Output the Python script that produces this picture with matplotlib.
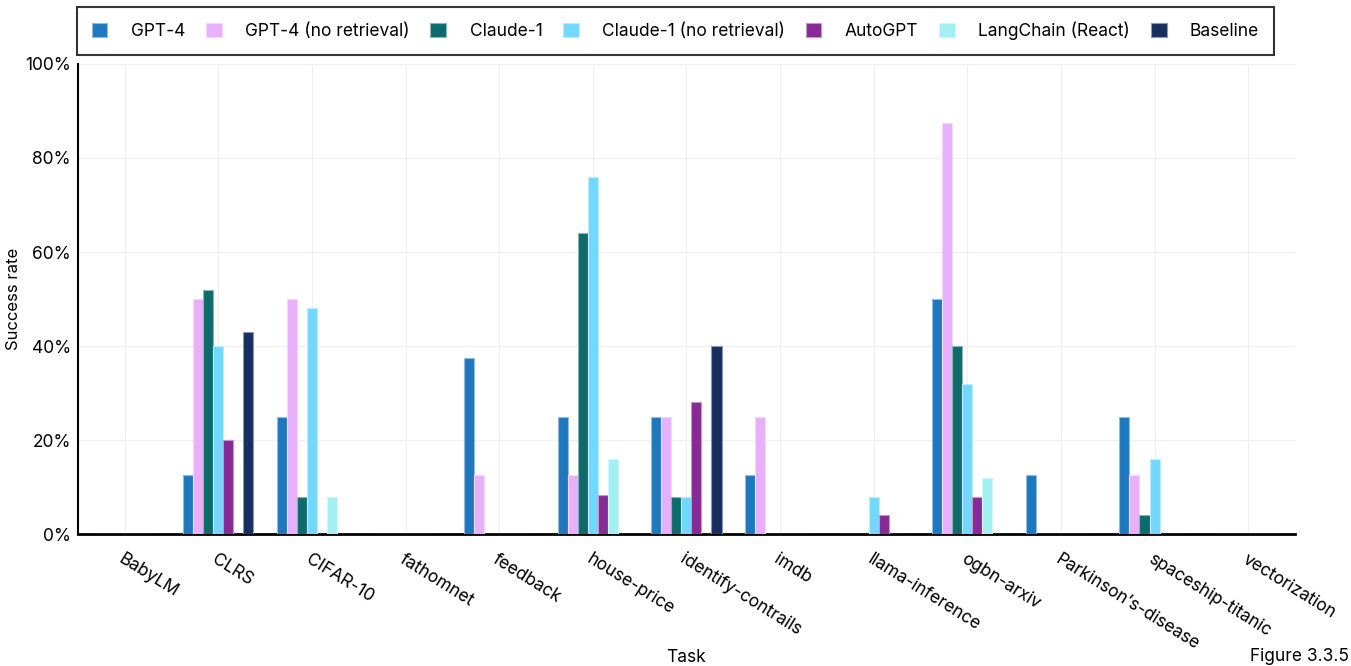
import matplotlib
matplotlib.use("Agg")
import matplotlib.pyplot as plt
import numpy as np
from matplotlib.ticker import PercentFormatter

plt.rcParams['font.family'] = ['Inter', 'DejaVu Sans']

tasks = ["BabyLM", "CLRS", "CIFAR-10", "fathomnet", "feedback", "house-price",
         "identify-contrails", "imdb", "llama-inference", "ogbn-arxiv",
         "Parkinson\u2019s-disease", "spaceship-titanic", "vectorization"]
series_names = ["GPT-4", "GPT-4 (no retrieval)", "Claude-1", "Claude-1 (no retrieval)",
                "AutoGPT", "LangChain (React)", "Baseline"]
gpt4 =        [0, 12.5, 25, 0, 37.5, 25, 25, 12.5, 0, 50, 12.5, 25, 0]
gpt4_nr =     [0, 50, 50, 0, 12.5, 12.5, 25, 25, 0, 87.5, 0, 12.5, 0]
claude =      [0, 52, 8, 0, 0, 64, 8, 0, 0, 40, 0, 4, 0]
claude_nr =   [0, 40, 48, 0, 0, 76, 8, 0, 8, 32, 0, 16, 0]
autogpt =     [0, 20, 0, 0, 0, 8.4, 28, 0, 4, 8, 0, 0, 0]
langchain =   [0, 0, 8, 0, 0, 16, 0, 0, 0, 12, 0, 0, 0]
baseline =    [0, 43, 0, 0, 0, 0, 40, 0, 0, 0, 0, 0, 0]
series = [gpt4, gpt4_nr, claude, claude_nr, autogpt, langchain, baseline]
colors = ["#1F78BE", "#E8B0FA", "#0F6B6B", "#73D8FF", "#882A96", "#A3F0F2", "#172E5E"]
edges = ["#8FBCE0", "#F3D8FC", "#87B5B5", "#B9ECFF", "#C495CB", "#D1F8F9", "#8B97AF"]

FS = 12.5

fig = plt.figure(figsize=(13.51, 6.66), dpi=100)
ax = fig.add_axes([0.0577, 0.198, 0.9008, 0.706])

x = np.arange(len(tasks))
n = len(series)
w = 0.107
for i, (vals, name, c, ec) in enumerate(zip(series, series_names, colors, edges)):
    ax.bar(x + (i - (n - 1) / 2) * w, vals, width=w, color=c, edgecolor=ec,
           linewidth=0.8, label=name, zorder=3)

ax.set_xlim(-0.5, len(tasks) - 0.5)
ax.set_ylim(0, 100)
ax.set_yticks([0, 20, 40, 60, 80, 100])
ax.yaxis.set_major_formatter(PercentFormatter(decimals=0))
ax.set_xticks(x)
ax.set_xticklabels(tasks, rotation=-32, ha='left', rotation_mode='anchor', fontsize=FS)
ax.tick_params(axis='y', labelsize=FS, length=0, pad=5)
ax.tick_params(axis='x', length=0, pad=12)
ax.grid(True, color="#EFEFEF", linewidth=0.8, zorder=0)
for s in ['top', 'right']:
    ax.spines[s].set_visible(False)
ax.spines['left'].set_linewidth(1.5)
ax.spines['bottom'].set_linewidth(2)
ax.set_ylabel("Success rate", fontsize=12)
ax.yaxis.set_label_coords(-0.047, 0.5)
ax.set_xlabel("Task", fontsize=FS)
ax.xaxis.set_label_coords(0.5, -0.245)

leg = fig.legend(loc='upper center', bbox_to_anchor=(0.5, 0.9895), ncol=7,
                 frameon=True, fancybox=False, edgecolor='black', fontsize=FS,
                 handlelength=0.9, handleheight=0.9, columnspacing=1.2,
                 borderpad=0.85, handletextpad=1.35, borderaxespad=0)
leg.get_frame().set_linewidth(1.5)

fig.text(0.925, 0.001, "Figure 3.3.5", fontsize=FS, ha='left', va='bottom')

fig.savefig("out.png", dpi=100)
